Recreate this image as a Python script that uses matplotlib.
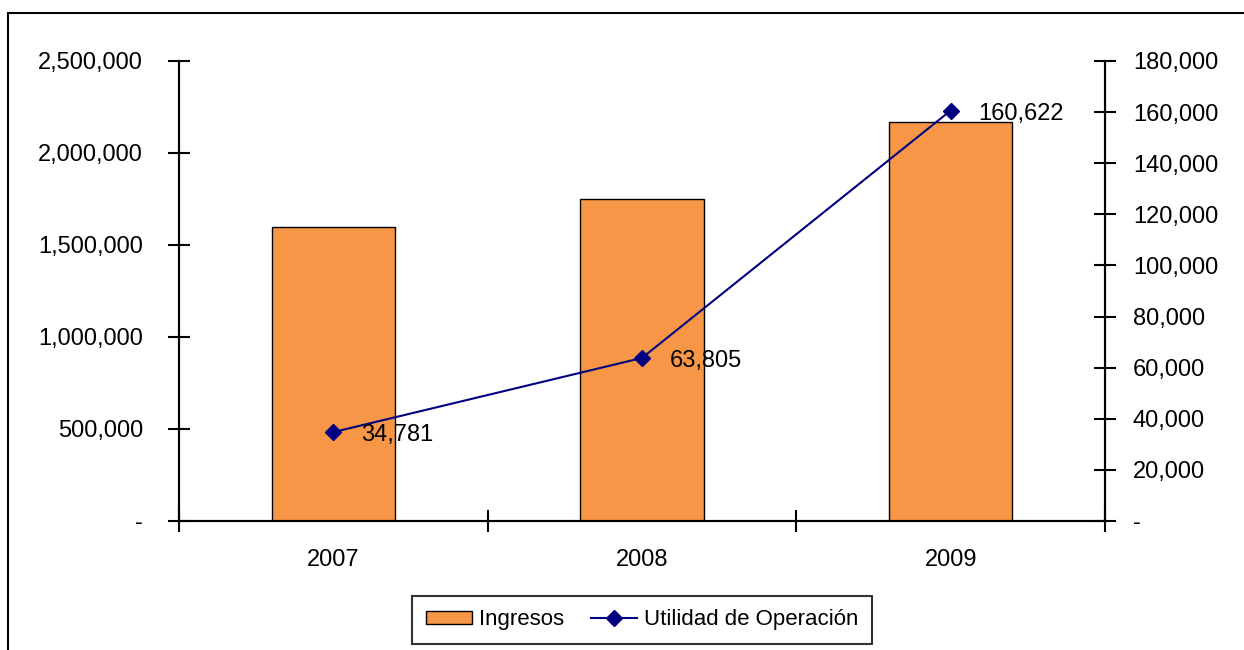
import matplotlib
matplotlib.use("Agg")
import matplotlib.pyplot as plt
from matplotlib.ticker import FuncFormatter, FixedLocator
from matplotlib.patches import Rectangle

plt.rcParams['font.family'] = ['Liberation Sans', 'DejaVu Sans']

years = ["2007", "2008", "2009"]
ingresos = [1596000, 1750000, 2168000]
utilidad = [34781, 63805, 160622]
utilidad_labels = ["34,781", "63,805", "160,622"]

FS = 17
W, H = 1244, 650
fig = plt.figure(figsize=(W / 100, H / 100), dpi=100)
fig.patches.append(Rectangle((8 / W, -0.1), 1.2, 1 - 13 / H + 0.1, transform=fig.transFigure,
                             fill=False, edgecolor='black', linewidth=1.5))

ax = fig.add_axes([179 / W, 1 - 521 / H, (1105 - 179) / W, (521 - 61) / H])
ax2 = ax.twinx()
ax.set_zorder(1)
ax2.set_zorder(2)
ax.patch.set_visible(False)

x = list(range(len(years)))
bars = ax.bar(x, ingresos, width=0.4, color='#F79646', edgecolor='black', linewidth=1.0,
              label='Ingresos')
line, = ax2.plot(x, utilidad, color='#000080', linewidth=1.5, marker='D', markersize=8,
                 label='Utilidad de Operación')
for xi, yi, lab in zip(x, utilidad, utilidad_labels):
    ax2.annotate(lab, (xi, yi), xytext=(28, -3), textcoords='offset pixels',
                 ha='left', va='center', fontsize=FS)

ax.set_xlim(-0.5, 2.5)
ax.set_ylim(0, 2500000)
ax2.set_ylim(0, 180000)

def fmt(v, pos):
    return '-' if v == 0 else f"{int(v):,}"

ax.yaxis.set_major_locator(FixedLocator([0, 500000, 1000000, 1500000, 2000000, 2500000]))
ax2.yaxis.set_major_locator(FixedLocator(list(range(0, 180001, 20000))))
ax.yaxis.set_major_formatter(FuncFormatter(fmt))
ax2.yaxis.set_major_formatter(FuncFormatter(fmt))

ax.set_xticks(x)
ax.set_xticklabels(years)
ax.xaxis.set_minor_locator(FixedLocator([-0.5, 0.5, 1.5, 2.5]))
ax.tick_params(axis='x', which='major', length=0, pad=20, labelsize=FS)
ax.tick_params(axis='x', which='minor', direction='inout', length=16, width=1.5)
ax.tick_params(axis='y', direction='inout', length=16, width=1.5, pad=18, labelsize=FS)
ax2.tick_params(axis='y', direction='inout', length=16, width=1.5, pad=12, labelsize=FS)

for a in (ax, ax2):
    a.spines['top'].set_visible(False)
    for s in ('left', 'right', 'bottom'):
        a.spines[s].set_linewidth(1.5)

leg = fig.legend(handles=[bars, line], labels=['Ingresos', 'Utilidad de Operación'],
                 loc='center', bbox_to_anchor=(642 / W, 1 - 620 / H), ncol=2,
                 frameon=True, fancybox=False, edgecolor='black', fontsize=16,
                 handlelength=2.1, handleheight=0.5, handletextpad=0.3,
                 columnspacing=1.2, borderpad=0.6)
leg.get_frame().set_linewidth(1.5)

fig.savefig('out.png', dpi=100)
